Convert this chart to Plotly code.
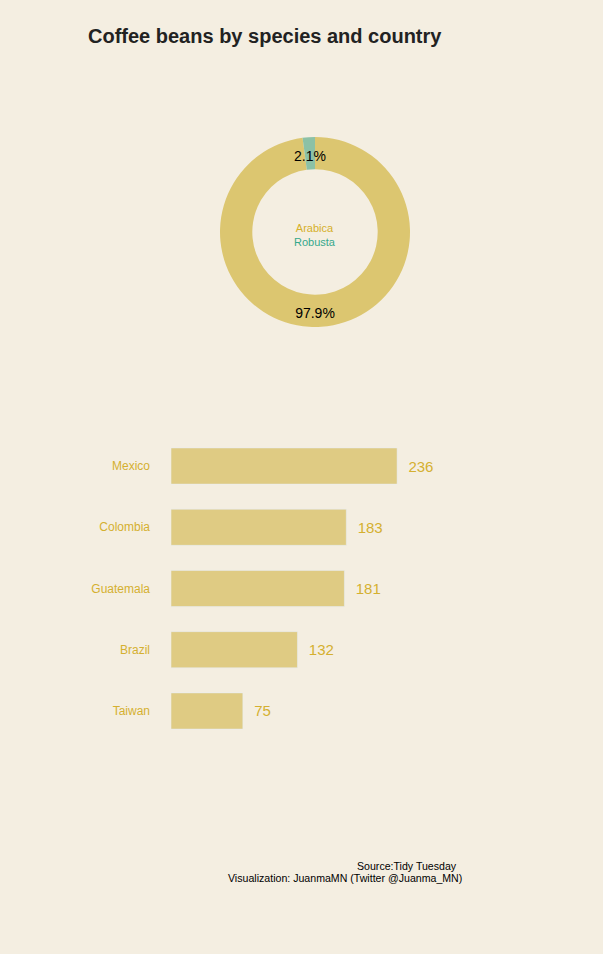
import plotly.graph_objects as go

# ---- data ----
species = ["Arabica", "Robusta"]
species_counts = [1311, 28]
species_colors = ["#dcc670", "#8cc1a6"]
species_text_colors = ["#d6b02a", "#35a88c"]

countries = ["Mexico", "Colombia", "Guatemala", "Brazil", "Taiwan"]
country_counts = [236, 183, 181, 132, 75]

title_text = "Coffee beans by species and country"
caption_lines = ["Source:Tidy Tuesday", "Visualization: JuanmaMN (Twitter @Juanma_MN)"]

W, H = 603, 954
BG = "#f4eee1"
GOLD = "#d4b030"
BAR = "#dfcb83"
CX, CY, R = 315, 232, 95  # donut centre / outer radius in px


def px_x(p):
    return p / W


def px_y(p):
    return 1 - p / H


def pie_domain(radius):
    return dict(x=[px_x(CX - radius), px_x(CX + radius)],
                y=[px_y(CY + radius), px_y(CY - radius)])


fig = go.Figure()

common = dict(
    labels=species,
    values=species_counts,
    sort=False,
    direction="clockwise",
    rotation=0,
    showlegend=False,
    hoverinfo="skip",
)

# visible donut
fig.add_trace(go.Pie(
    **common,
    hole=0.66,
    marker=dict(colors=species_colors),
    textinfo="none",
    domain=pie_domain(R),
))

# transparent label layers so each percentage sits mid-ring
label_font = dict(color="black", size=14, family="Liberation Sans, Arial, sans-serif")
for i, radius in [(1, 81), (0, 101)]:
    fig.add_trace(go.Pie(
        **common,
        hole=0.66,
        marker=dict(colors=["rgba(0,0,0,0)"] * len(species), line=dict(width=0)),
        texttemplate=["%{percent:.1%}" if j == i else "" for j in range(len(species))],
        textposition="inside",
        insidetextorientation="horizontal",
        textfont=label_font,
        domain=pie_domain(radius),
    ))

fig.add_trace(go.Bar(
    y=countries,
    x=country_counts,
    orientation="h",
    marker=dict(color=BAR),
    text=["  " + str(v) for v in country_counts],
    textposition="outside",
    cliponaxis=False,
    textfont=dict(color=GOLD, size=15, family="Liberation Sans, Arial, sans-serif"),
    showlegend=False,
    xaxis="x", yaxis="y",
))

legend_html = "<br>".join(
    f"<span style='color:{c}'>{l}</span>" for l, c in zip(species, species_text_colors)
)

fig.update_layout(
    width=W, height=H,
    paper_bgcolor=BG, plot_bgcolor=BG,
    margin=dict(l=0, r=0, t=0, b=0),
    font=dict(family="Liberation Sans, Arial, sans-serif"),
    uniformtext=dict(minsize=14, mode="show"),
    title=dict(
        text=f"<b>{title_text}</b>",
        x=px_x(88), xanchor="left",
        y=px_y(36), yanchor="middle",
        font=dict(size=20, color="#222222"),
    ),
    bargap=0.41,
    xaxis=dict(
        domain=[px_x(171), px_x(410.5)],
        range=[0, 250],
        visible=False,
        showgrid=False, zeroline=False,
    ),
    yaxis=dict(
        domain=[px_y(741.6), px_y(435.4)],
        autorange="reversed",
        showgrid=False, zeroline=False, showline=False,
        ticks="",
        ticklabelstandoff=20,
        tickfont=dict(color=GOLD, size=12),
    ),
    annotations=[
        dict(
            text=legend_html,
            x=px_x(315), y=px_y(234.5),
            xref="paper", yref="paper",
            xanchor="center", yanchor="middle",
            showarrow=False,
            font=dict(size=11),
        ),
        dict(
            text=caption_lines[0],
            x=px_x(458.5), y=px_y(866),
            xref="paper", yref="paper",
            xanchor="right", yanchor="middle",
            showarrow=False,
            font=dict(size=10.6, color="black"),
        ),
        dict(
            text=caption_lines[1],
            x=px_x(463.5), y=px_y(878),
            xref="paper", yref="paper",
            xanchor="right", yanchor="middle",
            showarrow=False,
            font=dict(size=10.6, color="black"),
        ),
    ],
)

fig.write_html("out.html")
